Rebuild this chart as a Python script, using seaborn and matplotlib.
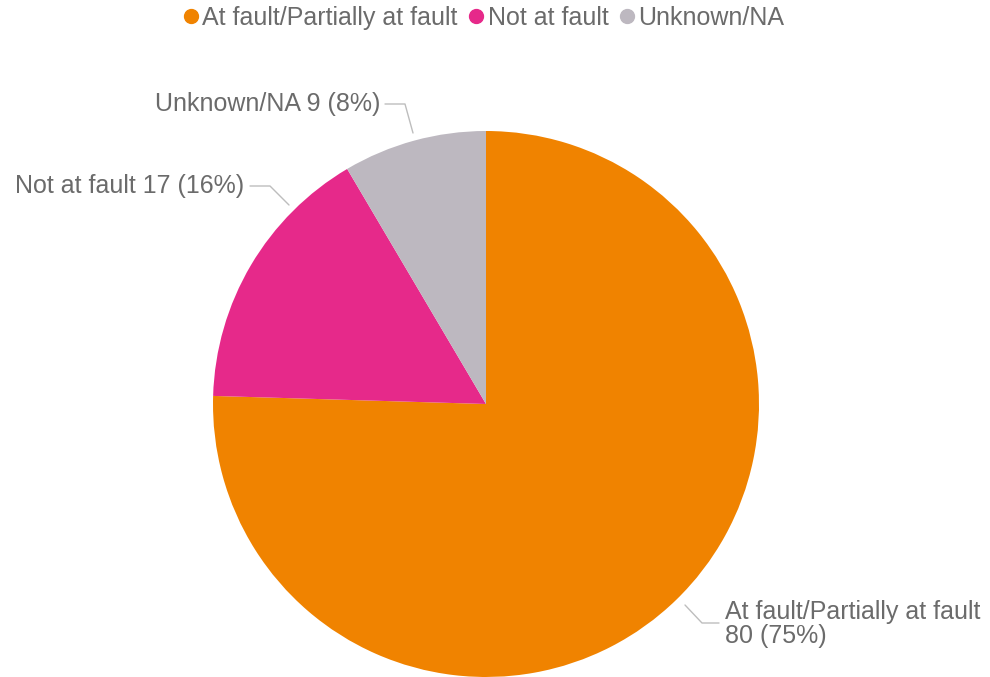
import matplotlib
matplotlib.use("Agg")
import matplotlib.pyplot as plt
import seaborn as sns
from matplotlib.lines import Line2D

sns.set_theme(style="white")
plt.rcParams['font.family'] = ['Liberation Sans', 'DejaVu Sans']

# data
labels = ['At fault/Partially at fault', 'Not at fault', 'Unknown/NA']
counts = [80, 17, 9]
pcts = [75, 16, 8]
colors = ['#F08300', '#E6298A', '#BDB8C0']
text_color = '#6b6b6b'
fs = 18

fig = plt.figure(figsize=(9.9, 6.77), dpi=100)
R = 273.0
cx, cy = 486.0, 404.0
ax = fig.add_axes([(cx - R) / 990, (677 - cy - R) / 677, 2 * R / 990, 2 * R / 677])

ax.pie(counts, colors=colors, startangle=90, counterclock=False,
       wedgeprops=dict(linewidth=0))
ax.set_xlim(-1, 1)
ax.set_ylim(-1, 1)
ax.axis('off')


def px(x, y):
    # pixel coords in the reference -> pie data coords
    return ((x - cx) / R, (cy - y) / R)


line_kw = dict(color='#bdbdbd', lw=1.0, clip_on=False)

# Unknown/NA label
pts = [px(385, 104), px(405, 104), px(413, 133)]
ax.plot([p[0] for p in pts], [p[1] for p in pts], **line_kw)
ax.text(*px(380, 104), f'{labels[2]} {counts[2]} ({pcts[2]}%)', ha='right', va='center',
        fontsize=fs, color=text_color, clip_on=False)

# Not at fault label
pts = [px(250, 186), px(270, 186), px(289, 205)]
ax.plot([p[0] for p in pts], [p[1] for p in pts], **line_kw)
ax.text(*px(244, 186), f'{labels[1]} {counts[1]} ({pcts[1]}%)', ha='right', va='center',
        fontsize=fs, color=text_color, clip_on=False)

# At fault label
pts = [px(685, 605), px(702, 623), px(719, 623)]
ax.plot([p[0] for p in pts], [p[1] for p in pts], **line_kw)
ax.text(*px(725, 624), f'{labels[0]}\n{counts[0]} ({pcts[0]}%)', ha='left', va='center',
        fontsize=fs, color=text_color, linespacing=1.0, clip_on=False)

handles = [Line2D([], [], marker='o', ls='', markersize=10, markerfacecolor=c,
                  markeredgecolor=c) for c in colors]
fig.legend(handles, labels, loc='center', bbox_to_anchor=(482 / 990, 1 - 18 / 677), ncol=3,
           frameon=False, fontsize=fs, handletextpad=0.0, columnspacing=0.3,
           handlelength=0.9, labelcolor=text_color)

fig.savefig('out.png', dpi=100)
